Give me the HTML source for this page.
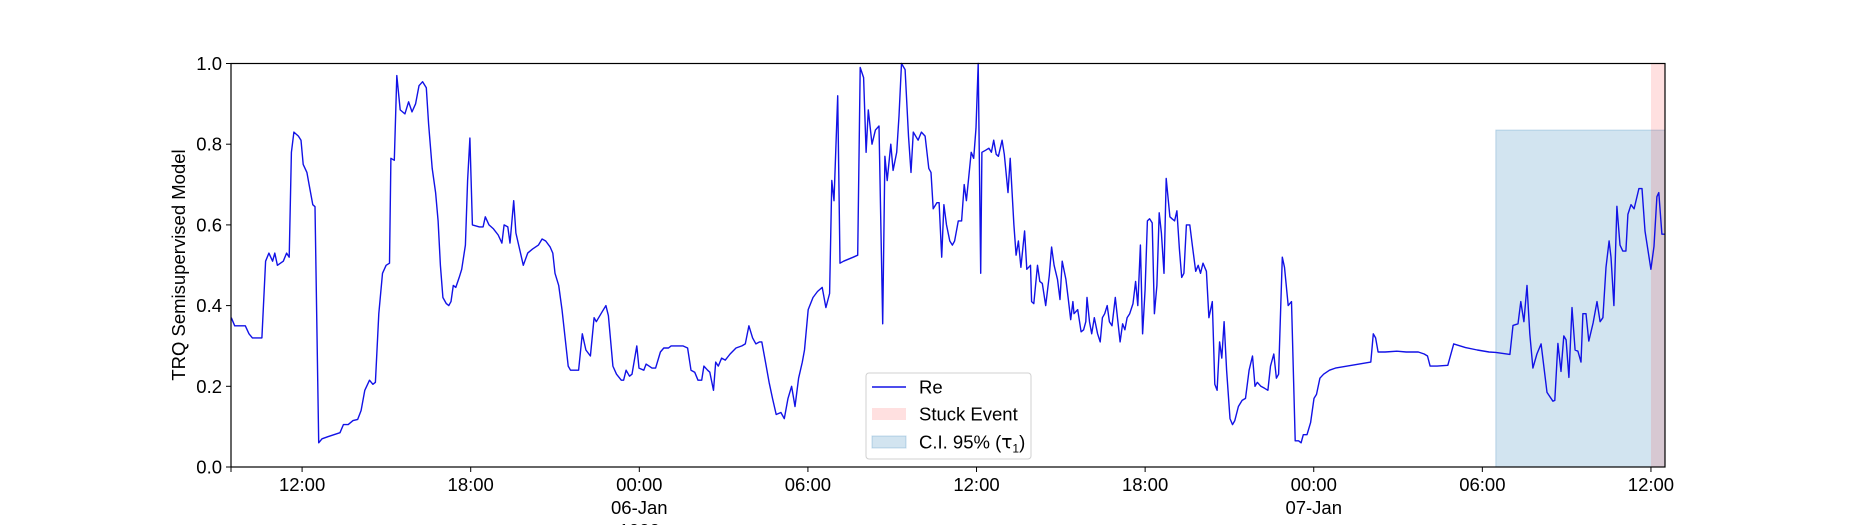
<!DOCTYPE html>
<html><head><meta charset="utf-8"><style>
html,body{margin:0;padding:0;background:#fff;}
svg{display:block;font-family:"Liberation Sans","DejaVu Sans",sans-serif;}
</style></head><body>
<svg id="chart" width="1850" height="525" viewBox="0 0 1850 525"></svg>
<script>
const times=[9.48,9.60,9.98,10.11,10.23,10.57,10.70,10.82,10.95,11.03,11.12,11.33,11.45,11.54,11.62,11.71,11.87,11.96,12.04,12.17,12.25,12.38,12.46,12.59,12.71,12.92,13.35,13.47,13.64,13.81,13.98,14.10,14.23,14.40,14.52,14.61,14.73,14.86,14.99,15.11,15.16,15.28,15.37,15.49,15.66,15.79,15.91,16.04,16.16,16.29,16.42,16.50,16.63,16.75,16.84,16.92,17.01,17.13,17.22,17.30,17.38,17.47,17.59,17.68,17.81,17.89,17.97,18.06,18.31,18.44,18.52,18.65,18.81,18.98,19.11,19.19,19.32,19.40,19.53,19.61,19.74,19.87,20.03,20.20,20.41,20.54,20.67,20.83,20.92,21.00,21.13,21.25,21.47,21.55,21.84,21.97,22.10,22.26,22.39,22.47,22.68,22.81,22.90,23.06,23.19,23.36,23.44,23.53,23.65,23.74,23.91,23.99,24.16,24.24,24.45,24.58,24.75,24.87,25.04,25.13,25.34,25.55,25.72,25.84,25.97,26.09,26.22,26.30,26.43,26.51,26.64,26.72,26.81,26.93,27.06,27.23,27.44,27.65,27.77,27.90,28.03,28.15,28.28,28.36,28.49,28.62,28.74,28.87,29.04,29.16,29.29,29.42,29.54,29.67,29.80,29.88,30.01,30.18,30.34,30.51,30.64,30.77,30.85,30.93,31.06,31.14,31.27,31.44,31.61,31.77,31.86,31.98,32.07,32.15,32.28,32.40,32.53,32.66,32.74,32.82,32.95,33.03,33.16,33.24,33.33,33.46,33.58,33.67,33.75,33.92,34.04,34.17,34.30,34.38,34.46,34.59,34.67,34.76,34.84,34.93,35.05,35.14,35.22,35.35,35.47,35.56,35.64,35.81,35.90,35.98,36.06,36.15,36.19,36.32,36.44,36.53,36.61,36.70,36.78,36.91,36.99,37.12,37.20,37.33,37.41,37.49,37.58,37.71,37.79,37.92,37.96,38.04,38.17,38.25,38.34,38.46,38.59,38.67,38.76,38.88,38.97,39.05,39.18,39.26,39.35,39.43,39.47,39.60,39.72,39.81,39.89,39.93,40.02,40.10,40.19,40.31,40.40,40.48,40.56,40.65,40.73,40.82,40.94,41.03,41.11,41.20,41.28,41.36,41.45,41.57,41.66,41.74,41.83,41.91,42.00,42.08,42.16,42.25,42.33,42.42,42.50,42.58,42.67,42.75,42.88,42.96,43.05,43.13,43.22,43.30,43.38,43.47,43.59,43.68,43.80,43.89,43.97,44.06,44.18,44.27,44.39,44.48,44.56,44.65,44.73,44.81,44.90,45.02,45.11,45.19,45.32,45.45,45.57,45.70,45.82,45.91,45.99,46.12,46.25,46.37,46.46,46.58,46.67,46.75,46.88,46.96,47.09,47.21,47.34,47.46,47.55,47.63,47.76,47.89,48.01,48.10,48.22,48.35,48.56,48.77,49.19,49.61,50.03,50.12,50.20,50.29,50.54,50.96,51.29,51.72,51.93,52.05,52.14,52.39,52.77,52.98,53.40,53.82,54.24,54.48,54.98,55.09,55.27,55.37,55.48,55.59,55.69,55.80,55.94,56.09,56.30,56.51,56.58,56.69,56.80,56.90,56.98,57.08,57.19,57.30,57.40,57.51,57.58,57.69,57.79,57.94,58.08,58.19,58.29,58.40,58.51,58.58,58.68,58.79,58.90,59.00,59.11,59.18,59.29,59.40,59.57,59.68,59.79,60.00,60.11,60.21,60.28,60.39,60.50];
const values=[0.37,0.35,0.35,0.33,0.32,0.32,0.51,0.53,0.51,0.53,0.50,0.51,0.53,0.52,0.78,0.83,0.82,0.81,0.75,0.73,0.70,0.65,0.645,0.06,0.07,0.075,0.085,0.105,0.105,0.115,0.118,0.14,0.19,0.215,0.205,0.21,0.38,0.48,0.50,0.505,0.765,0.76,0.97,0.885,0.875,0.905,0.88,0.90,0.945,0.955,0.94,0.85,0.74,0.68,0.61,0.50,0.42,0.405,0.40,0.41,0.45,0.445,0.47,0.49,0.55,0.71,0.815,0.60,0.595,0.595,0.62,0.60,0.59,0.575,0.555,0.60,0.595,0.555,0.66,0.58,0.54,0.50,0.53,0.54,0.55,0.565,0.56,0.545,0.53,0.48,0.45,0.39,0.25,0.24,0.24,0.33,0.29,0.275,0.37,0.36,0.385,0.40,0.375,0.25,0.23,0.215,0.215,0.24,0.225,0.23,0.30,0.245,0.24,0.255,0.245,0.245,0.285,0.295,0.295,0.30,0.30,0.30,0.295,0.24,0.235,0.215,0.215,0.25,0.24,0.235,0.19,0.26,0.25,0.27,0.265,0.28,0.295,0.30,0.305,0.35,0.32,0.305,0.31,0.31,0.26,0.21,0.17,0.13,0.135,0.12,0.17,0.20,0.15,0.22,0.26,0.29,0.39,0.42,0.435,0.445,0.395,0.43,0.71,0.66,0.92,0.505,0.51,0.515,0.52,0.525,0.99,0.965,0.78,0.885,0.80,0.835,0.845,0.355,0.77,0.71,0.80,0.735,0.78,0.87,1.0,0.985,0.82,0.73,0.83,0.81,0.83,0.82,0.74,0.73,0.64,0.655,0.655,0.52,0.65,0.60,0.56,0.55,0.56,0.61,0.61,0.70,0.66,0.78,0.765,0.84,1.0,0.48,0.78,0.785,0.79,0.78,0.81,0.775,0.77,0.81,0.775,0.68,0.765,0.60,0.525,0.56,0.495,0.585,0.49,0.50,0.41,0.405,0.50,0.46,0.455,0.40,0.475,0.545,0.50,0.465,0.415,0.51,0.465,0.42,0.365,0.41,0.38,0.39,0.335,0.34,0.36,0.42,0.36,0.33,0.37,0.33,0.31,0.37,0.38,0.40,0.36,0.35,0.42,0.36,0.31,0.355,0.34,0.37,0.38,0.405,0.46,0.40,0.55,0.33,0.44,0.61,0.615,0.605,0.38,0.45,0.63,0.58,0.48,0.715,0.62,0.615,0.61,0.635,0.54,0.47,0.48,0.60,0.60,0.55,0.485,0.50,0.48,0.505,0.485,0.37,0.41,0.205,0.19,0.31,0.27,0.36,0.24,0.12,0.105,0.115,0.15,0.165,0.17,0.24,0.275,0.20,0.21,0.20,0.195,0.19,0.25,0.28,0.22,0.23,0.52,0.495,0.40,0.41,0.065,0.065,0.06,0.08,0.08,0.11,0.17,0.18,0.22,0.23,0.24,0.245,0.25,0.255,0.26,0.33,0.32,0.285,0.285,0.287,0.285,0.285,0.28,0.275,0.25,0.25,0.252,0.305,0.296,0.29,0.285,0.284,0.279,0.351,0.355,0.41,0.36,0.45,0.33,0.245,0.28,0.305,0.185,0.163,0.165,0.306,0.237,0.325,0.315,0.222,0.395,0.29,0.287,0.26,0.38,0.38,0.312,0.357,0.41,0.36,0.37,0.495,0.56,0.52,0.40,0.646,0.55,0.535,0.535,0.626,0.65,0.64,0.69,0.69,0.585,0.49,0.547,0.67,0.68,0.577,0.577];
const xTicks=[12,18,24,30,36,42,48,54,60];
const xTickLabels=[["12:00"],["18:00"],["00:00","06-Jan","1900"],["06:00"],["12:00"],["18:00"],["00:00","07-Jan"],["06:00"],["12:00"]];
const yTicks=[0,0.2,0.4,0.6,0.8,1.0];
const yTickLabels=["0.0","0.2","0.4","0.6","0.8","1.0"];
const xDomain=[9.47,60.5];
const ciRange=[54.48,60.5];
const ciLevel=0.835;
const stuckRange=[60.0,60.5];

const L=231,R=1665,T=63.5,B=467;
const FS=18.5;
const sx=v=>L+(v-xDomain[0])/(xDomain[1]-xDomain[0])*(R-L);
const sy=v=>B-v*(B-T);
const NS="http://www.w3.org/2000/svg";
const svg=document.getElementById('chart');
function mk(tag,attrs,parent){const e=document.createElementNS(NS,tag);for(const k in attrs)e.setAttribute(k,attrs[k]);(parent||svg).appendChild(e);return e;}

const ci=mk('rect',{x:sx(ciRange[0]),y:sy(ciLevel),width:sx(ciRange[1])-sx(ciRange[0]),height:sy(0)-sy(ciLevel),fill:'rgba(31,119,180,0.2)',stroke:'rgba(31,119,180,0.25)'});


const st=mk('rect',{x:sx(stuckRange[0]),y:sy(1),width:sx(stuckRange[1])-sx(stuckRange[0]),height:sy(0)-sy(1),fill:'rgba(255,0,0,0.12)'});



let d='';
for(let i=0;i<times.length;i++){d+=(i?'L':'M')+sx(times[i]).toFixed(1)+' '+sy(values[i]).toFixed(1);}
const line=mk('path',{d:d,fill:'none',stroke:'#1212e6','stroke-width':1.4,'stroke-linejoin':'round'});



const frame=mk('rect',{x:L,y:T,width:R-L,height:B-T,fill:'none',stroke:'#000','stroke-width':1.2});



xTicks.forEach((t,i)=>{
  const x=sx(t);
  const tk=mk('line',{x1:x,x2:x,y1:B,y2:B+5,stroke:'#000','stroke-width':1});
  
  
  xTickLabels[i].forEach((s,j)=>{
    const tx=mk('text',{x:x,y:B+24+j*23,'text-anchor':'middle','font-size':FS,fill:'#000'});
    tx.textContent=s;
    
    
  });
});
const x0=mk('line',{x1:L,x2:L,y1:B,y2:B+5,stroke:'#000'});


yTicks.forEach((t,i)=>{
  const y=sy(t);
  const tk=mk('line',{x1:L-5,x2:L,y1:y,y2:y,stroke:'#000','stroke-width':1});
  
  
  const tx=mk('text',{x:L-9,y:y+6.5,'text-anchor':'end','font-size':FS,fill:'#000'});
  tx.textContent=yTickLabels[i];
  
  
});
const yl=mk('text',{x:0,y:0,transform:'translate(185,265) rotate(-90)','text-anchor':'middle','font-size':FS,fill:'#000'});
yl.textContent='TRQ Semisupervised Model';



const lg=mk('g',{});


mk('rect',{x:866,y:373,width:165,height:86,rx:3,fill:'rgba(255,255,255,0.8)',stroke:'#d0d0d0'},lg);
const e1=mk('line',{x1:872,x2:906,y1:387,y2:387,stroke:'#1212e6','stroke-width':1.4},lg);


const t1=mk('text',{x:919,y:393.5,'font-size':FS},lg);t1.textContent='Re';


const e2=mk('rect',{x:872,y:408,width:34,height:12,fill:'rgba(255,0,0,0.12)'},lg);


const t2=mk('text',{x:919,y:420.5,'font-size':FS},lg);t2.textContent='Stuck Event';


const e3=mk('rect',{x:872,y:436,width:34,height:12,fill:'rgba(31,119,180,0.2)',stroke:'rgba(31,119,180,0.25)'},lg);


const t3=mk('text',{x:919,y:448.5,'font-size':FS},lg);
t3.innerHTML='C.I. 95% (<tspan font-family="DejaVu Sans">τ</tspan><tspan font-size="12" dy="4">1</tspan><tspan dy="-4">)</tspan>';


</script>
</body></html>
